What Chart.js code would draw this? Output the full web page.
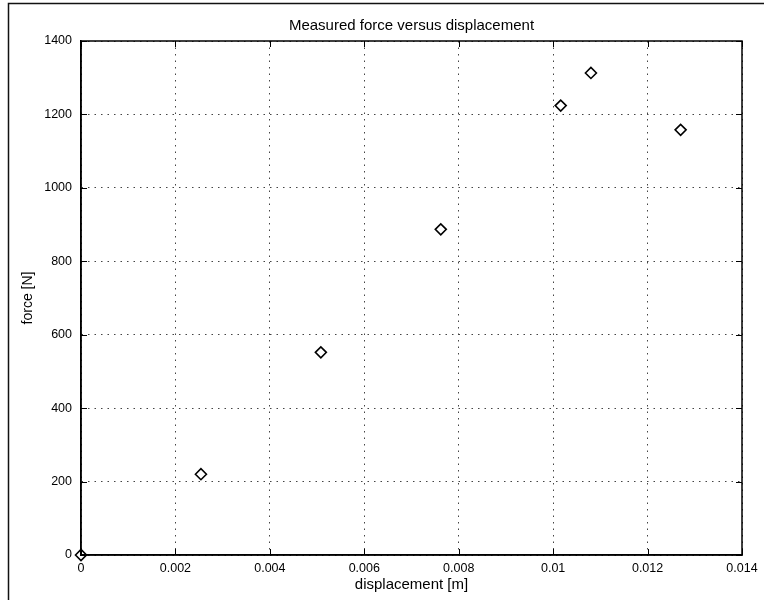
<!DOCTYPE html>
<html>
<head>
<meta charset="utf-8">
<title>Measured force versus displacement</title>
<script src="https://cdn.jsdelivr.net/npm/chart.js@4.4.1/dist/chart.umd.min.js"></script>
<style>
  html, body { margin: 0; padding: 0; background: #fff; }
  #forceChart { display: block; }
</style>
</head>
<body>
<canvas id="forceChart" width="764" height="600"></canvas>
<script>
// measured points (displacement in m, force in N)
const displacement = [0, 0.00254, 0.00508, 0.00762, 0.01016, 0.0108, 0.0127];
const force = [0, 220, 552, 887, 1224, 1313, 1158];

// axis ticks
const xTicks = [0, 0.002, 0.004, 0.006, 0.008, 0.01, 0.012, 0.014];
const xTickLabels = ['0', '0.002', '0.004', '0.006', '0.008', '0.01', '0.012', '0.014'];
const yTicks = [0, 200, 400, 600, 800, 1000, 1200, 1400];
const yTickLabels = ['0', '200', '400', '600', '800', '1000', '1200', '1400'];

const chartTitle = 'Measured force versus displacement';
const FONT = "'Liberation Sans', Arial, Helvetica, sans-serif";

// axes box + inward tick marks on all four sides
const boxTicks = {
    id: 'boxTicks',
    beforeDatasetsDraw(c) {
        const { ctx, chartArea: a, scales } = c;
        const len = 6;
        ctx.save();
        ctx.strokeStyle = '#000';
        ctx.lineWidth = 1.5;
        ctx.strokeRect(a.left, a.top, a.right - a.left, a.bottom - a.top);
        ctx.lineWidth = 1;
        ctx.beginPath();
        scales.x.ticks.forEach((t, i) => {
            const px = Math.round(scales.x.getPixelForTick(i)) + 0.5;
            ctx.moveTo(px, a.bottom); ctx.lineTo(px, a.bottom - len);
            ctx.moveTo(px, a.top); ctx.lineTo(px, a.top + len);
        });
        scales.y.ticks.forEach((t, i) => {
            const py = Math.round(scales.y.getPixelForTick(i)) + 0.5;
            ctx.moveTo(a.left, py); ctx.lineTo(a.left + len, py);
            ctx.moveTo(a.right, py); ctx.lineTo(a.right - len, py);
        });
        ctx.stroke();
        ctx.restore();
    }
};

// title centred over the axes (not the whole canvas) + page frame line
const frameTitle = {
    id: 'frameTitle',
    afterDraw(c) {
        const { ctx, chartArea: a } = c;
        ctx.save();
        ctx.fillStyle = '#000';
        ctx.font = '15px ' + FONT;
        ctx.textAlign = 'center';
        ctx.textBaseline = 'middle';
        ctx.fillText(chartTitle, (a.left + a.right) / 2, 26);

        ctx.strokeStyle = '#111';
        ctx.lineWidth = 1.5;
        ctx.beginPath();
        ctx.moveTo(8.5, c.height);
        ctx.lineTo(8.5, 3.5);
        ctx.lineTo(c.width, 3.5);
        ctx.stroke();
        ctx.restore();
    }
};

const ctx = document.getElementById('forceChart').getContext('2d');
const chart = new Chart(ctx, {
    type: 'scatter',
    data: {
        datasets: [{
            label: 'force',
            data: displacement.map((d, i) => ({ x: d, y: force[i] })),
            pointStyle: 'rectRot',
            pointRadius: 5.5,
            pointBorderWidth: 1.6,
            pointBorderColor: '#000',
            pointBackgroundColor: 'rgba(0,0,0,0)',
            showLine: false,
            clip: false
        }]
    },
    options: {
        responsive: false,
        animation: false,
        events: [],
        layout: { padding: { left: 0, right: 22, top: 41, bottom: 0 } },
        plugins: {
            legend: { display: false },
            tooltip: { enabled: false },
            title: { display: false }
        },
        scales: {
            x: {
                type: 'linear',
                min: 0,
                max: 0.014,
                afterBuildTicks: s => { s.ticks = xTicks.map(v => ({ value: v })); },
                afterFit: s => { s.height = 45; },
                grid: { color: '#444', lineWidth: 1, drawTicks: false },
                border: { display: true, color: '#000', width: 1.5, dash: [1.5, 5] },
                ticks: {
                    color: '#000',
                    padding: 6,
                    maxRotation: 0,
                    font: { family: FONT, size: 12.5 },
                    callback: (v, i) => xTickLabels[i]
                },
                title: {
                    display: true,
                    text: 'displacement [m]',
                    color: '#000',
                    font: { family: FONT, size: 15 },
                    padding: { top: 0, bottom: 6 }
                }
            },
            y: {
                type: 'linear',
                min: 0,
                max: 1400,
                afterBuildTicks: s => { s.ticks = yTicks.map(v => ({ value: v })); },
                afterFit: s => { s.width = 81; },
                grid: { color: '#444', lineWidth: 1, drawTicks: false },
                border: { display: true, color: '#000', width: 1.5, dash: [1.5, 5] },
                ticks: {
                    color: '#000',
                    padding: 9,
                    font: { family: FONT, size: 12.5 },
                    callback: (v, i) => yTickLabels[i]
                },
                title: {
                    display: true,
                    text: 'force [N]',
                    color: '#000',
                    font: { family: FONT, size: 14 },
                    padding: { top: 19.6, bottom: 0 }
                }
            }
        }
    },
    plugins: [boxTicks, frameTitle]
});
</script>
</body>
</html>
